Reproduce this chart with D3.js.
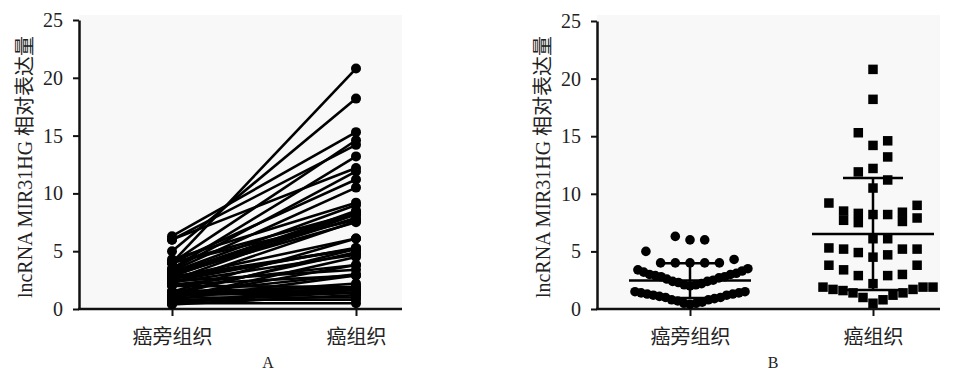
<!DOCTYPE html>
<html>
<head>
<meta charset="utf-8">
<script src="https://cdn.jsdelivr.net/npm/d3@7"></script>
<style>
  body { margin: 0; background: #fff; }
  text { font-family: "Liberation Serif", "Noto Sans CJK SC", serif; fill: #222; }
</style>
</head>
<body>
<div id="chart"></div>
<script>
// paired samples, one entry per patient
const categories = ["癌旁组织", "癌组织"];
const adjacent = [4.0, 5.0, 6.3, 4.0, 6.0, 3.5, 6.0, 3.4, 4.0, 3.3, 4.3, 3.2, 2.8, 3.1, 4.0, 2.5, 3.0, 2.9, 4.0, 2.2,
    3.0, 1.5, 2.7, 2.4, 1.2, 2.8, 2.6, 1.4, 2.3, 0.9, 2.1, 1.0, 2.4, 1.3, 0.8, 2.1, 1.1, 2.0, 1.5, 0.6,
    1.4, 0.5, 1.3, 0.7, 1.2, 0.4, 1.0, 0.8, 0.5];
const tumor = [20.8, 18.2, 15.3, 14.6, 14.2, 13.2, 12.2, 11.9, 11.2, 10.5, 9.2, 9.0, 8.5, 8.4, 8.3, 8.2, 8.2, 7.9, 7.7, 7.6,
    7.5, 6.1, 6.1, 5.3, 5.2, 5.2, 5.2, 4.9, 4.7, 4.5, 3.8, 3.8, 3.4, 3.0, 2.9, 2.9, 2.2, 1.9, 1.9, 1.9,
    1.7, 1.7, 1.6, 1.4, 1.4, 1.2, 1.0, 0.8, 0.5];
const yTicks = [0, 5, 10, 15, 20, 25];
const yTitle = "lncRNA MIR31HG 相对表达量";
const panelLabels = ["A", "B"];

const width = 958, height = 374;
const svg = d3.select("#chart").append("svg")
    .attr("width", width)
    .attr("height", height);

const y0 = 309;
const panels = [
    { axisX: 79, right: 402, top: 20, cats: [172, 356], title: 32, label: 268 },
    { axisX: 597, right: 940, top: 21, cats: [690, 873], title: 550, label: 773 }
];

function drawAxes(p, i) {
    const g = svg.append("g");
    g.append("rect")
        .attr("x", p.axisX).attr("y", 15)
        .attr("width", p.right - p.axisX).attr("height", y0 - 15)
        .attr("fill", "#f8f8f8");

    const y = d3.scaleLinear().domain([0, 25]).range([y0, p.top]);
    const x = d3.scalePoint().domain(categories).range(p.cats);

    const yAxis = g.append("g")
        .attr("transform", `translate(${p.axisX},0)`)
        .call(d3.axisLeft(y).tickValues(yTicks).tickSize(6).tickSizeOuter(0).tickPadding(10));
    yAxis.select(".domain").attr("stroke", "#111").attr("stroke-width", 2.5);
    yAxis.selectAll(".tick line").attr("stroke", "#111").attr("stroke-width", 2);
    yAxis.selectAll(".tick text").attr("font-size", 20)
        .style("font-family", "'Liberation Serif', serif");

    const xAxis = g.append("g")
        .attr("transform", `translate(0,${y0})`)
        .call(d3.axisBottom(x).tickSize(7).tickSizeOuter(0).tickPadding(14));
    xAxis.select(".domain").remove();
    xAxis.selectAll(".tick line").attr("stroke", "#111").attr("stroke-width", 2);
    xAxis.selectAll(".tick text").attr("font-size", 20)
        .style("font-family", "'Noto Sans CJK SC', sans-serif").attr("fill", "#333");

    g.append("line")
        .attr("x1", p.axisX - 1).attr("x2", p.right)
        .attr("y1", y0).attr("y2", y0)
        .attr("stroke", "#111").attr("stroke-width", 2.5);

    g.append("text")
        .attr("transform", `translate(${p.title},167) rotate(-90)`)
        .attr("text-anchor", "middle")
        .attr("font-size", 20)
        .attr("fill", "#333")
        .text(yTitle);

    g.append("text")
        .attr("x", p.label).attr("y", 368)
        .attr("text-anchor", "middle")
        .attr("font-size", 16)
        .attr("fill", "#333")
        .text(panelLabels[i]);

    return { g, x, y };
}

// panel A: before / after lines
const a = drawAxes(panels[0], 0);
const pairs = adjacent.map((v, i) => [v, tumor[i]]);
a.g.append("g").selectAll("line")
    .data(pairs).enter().append("line")
    .attr("x1", a.x(categories[0])).attr("x2", a.x(categories[1]))
    .attr("y1", d => a.y(d[0])).attr("y2", d => a.y(d[1]))
    .attr("stroke", "#000").attr("stroke-width", 2.6);
[adjacent, tumor].forEach((vals, k) => {
    a.g.append("g").selectAll("circle")
        .data(vals).enter().append("circle")
        .attr("cx", a.x(categories[k]))
        .attr("cy", d => a.y(d))
        .attr("r", 5)
        .attr("fill", "#000");
});

// panel B: scatter with mean +- SD
const b = drawAxes(panels[1], 1);

// spread points of the same value band side by side, lowest in the middle
function swarm(vals, cx) {
    const bins = d3.group(vals, v => Math.floor(v / 2));
    const out = [];
    bins.forEach(list => {
        list = list.slice().sort((p, q) => p - q);
        const n = list.length;
        const step = n > 1 ? Math.min(14.7, 110 / (n - 1)) : 0;
        list.forEach((v, k) => {
            const slot = k === 0 ? 0 : (k % 2 === 1 ? (k + 1) / 2 : -k / 2);
            out.push({ v, x: cx + slot * step });
        });
    });
    return out;
}

const adjPts = swarm(adjacent, b.x(categories[0]));
const tumPts = swarm(tumor, b.x(categories[1]));

b.g.append("g").selectAll("circle")
    .data(adjPts).enter().append("circle")
    .attr("cx", d => d.x).attr("cy", d => b.y(d.v))
    .attr("r", 4.8).attr("fill", "#000");

const sq = 9.5;
b.g.append("g").selectAll("rect")
    .data(tumPts).enter().append("rect")
    .attr("x", d => d.x - sq / 2).attr("y", d => b.y(d.v) - sq / 2)
    .attr("width", sq).attr("height", sq)
    .attr("fill", "#000");

[adjacent, tumor].forEach((vals, k) => {
    const cx = b.x(categories[k]);
    const m = d3.mean(vals), sd = d3.deviation(vals);
    const eg = b.g.append("g").attr("stroke", "#000").attr("stroke-width", 2.5);
    eg.append("line").attr("x1", cx - 61).attr("x2", cx + 61)
        .attr("y1", b.y(m)).attr("y2", b.y(m));
    eg.append("line").attr("x1", cx).attr("x2", cx)
        .attr("y1", b.y(m - sd)).attr("y2", b.y(m + sd));
    [m - sd, m + sd].forEach(e => {
        eg.append("line").attr("x1", cx - 30).attr("x2", cx + 30)
            .attr("y1", b.y(e)).attr("y2", b.y(e));
    });
});
</script>
</body>
</html>
